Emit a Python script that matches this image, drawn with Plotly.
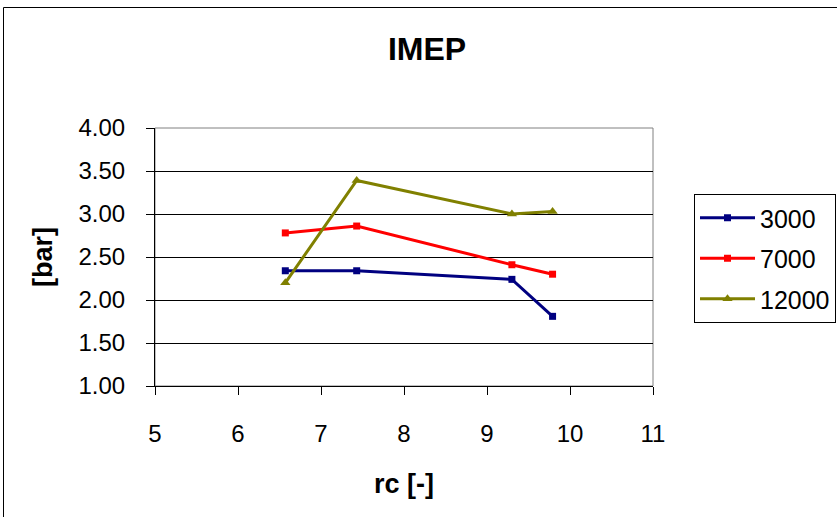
import plotly.graph_objects as go

rc = [6.57, 7.43, 9.30, 9.79]
imep_3000 = [2.34, 2.34, 2.24, 1.81]
imep_7000 = [2.78, 2.86, 2.41, 2.30]
imep_12000 = [2.20, 3.39, 3.00, 3.03]
series_names = ["3000", "7000", "12000"]
x_ticks = [5, 6, 7, 8, 9, 10, 11]
y_ticks = [1.0, 1.5, 2.0, 2.5, 3.0, 3.5, 4.0]

FONT = "Liberation Sans, Arial, sans-serif"

fig = go.Figure()
styles = [
    (imep_3000, "#000080", "square", 7),
    (imep_7000, "#FF0000", "square", 7),
    (imep_12000, "#808000", "triangle-up", 9),
]
for name, (vals, col, sym, sz) in zip(series_names, styles):
    fig.add_trace(go.Scatter(
        x=rc, y=vals, name=name, mode="lines+markers", legendgroup=name,
        line=dict(color=col, width=3),
        marker=dict(color=col, symbol=sym, size=sz),
    ))

W, H = 837, 517
L, R, T, B = 155, 653, 128, 386
pw, ph = R - L, B - T

def px(xp):
    return (xp - L) / pw

def py(yp):
    return (B - yp) / ph

fig.update_layout(
    width=W, height=H,
    margin=dict(l=L, r=W - R, t=T, b=H - B, autoexpand=False),
    paper_bgcolor="white", plot_bgcolor="white",
    font=dict(family=FONT, color="black", size=24),
    title=dict(text="<b>IMEP</b>", xref="paper", x=px(427), xanchor="center",
               yref="container", y=1 - 49 / H, yanchor="middle",
               font=dict(family=FONT, size=32, color="black")),
    showlegend=True,
    legend=dict(x=px(694), y=py(194), xanchor="left", yanchor="top",
                bordercolor="black", borderwidth=1, bgcolor="white",
                font=dict(family=FONT, size=25, color="black"),
                itemwidth=55, tracegroupgap=5),
    xaxis=dict(range=[5, 11], tickvals=x_ticks, ticktext=[str(v) for v in x_ticks],
               showgrid=False, showline=True, linecolor="black", linewidth=1,
               ticks="outside", ticklen=8, tickcolor="black",
               ticklabelstandoff=18, zeroline=False,
               title=dict(text="<b>rc [-]</b>", standoff=28,
                          font=dict(family=FONT, size=27, color="black"))),
    yaxis=dict(range=[1, 4], tickvals=y_ticks, ticktext=[f"{v:.2f}" for v in y_ticks],
               showgrid=True, gridcolor="black", gridwidth=1,
               showline=True, linecolor="black", linewidth=1,
               ticks="outside", ticklen=8, tickcolor="black",
               ticklabelstandoff=16, zeroline=False,
               title=dict(text="<b>[bar]</b>", standoff=18,
                          font=dict(family=FONT, size=27, color="black"))),
    shapes=[
        dict(type="rect", xref="paper", yref="paper", x0=0, x1=1, y0=0, y1=1,
             line=dict(color="#808080", width=1), layer="below"),
        dict(type="rect", xref="paper", yref="paper",
             x0=px(3.5), x1=px(845), y0=py(525), y1=py(7.5),
             line=dict(color="black", width=1), layer="below"),
    ],
)

fig.write_html("out.html", config={"displayModeBar": False},
               post_script="document.body.style.margin='0';")
